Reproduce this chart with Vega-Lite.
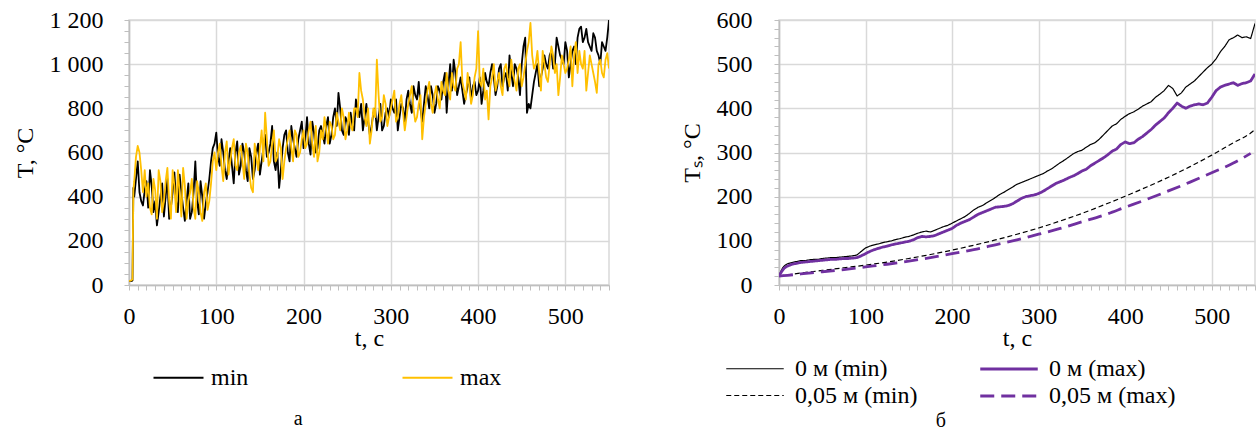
{
  "$schema": "https://vega.github.io/schema/vega-lite/v6.json",
  "padding": {"left": 12, "top": 7, "right": 0, "bottom": 0},
  "datasets": {
    "left": [
      {"t":0,"min":18,"max":18},{"t":2,"min":18,"max":20},{"t":4,"min":20,"max":25},{"t":5,"min":440,"max":430},{"t":6,"min":400,"max":470},
      {"t":8,"min":480,"max":580},{"t":10,"min":560,"max":630},{"t":12,"min":420,"max":600},{"t":14,"min":380,"max":520},{"t":16,"min":360,"max":420},
      {"t":20,"min":470,"max":400},{"t":24,"min":520,"max":350},{"t":28,"min":330,"max":480},{"t":32,"min":270,"max":300},{"t":36,"min":400,"max":470},
      {"t":40,"min":310,"max":380},{"t":44,"min":480,"max":530},{"t":48,"min":350,"max":300},{"t":52,"min":510,"max":450},{"t":56,"min":330,"max":520},
      {"t":60,"min":420,"max":310},{"t":64,"min":290,"max":450},{"t":68,"min":460,"max":380},{"t":72,"min":330,"max":480},{"t":76,"min":560,"max":300},
      {"t":80,"min":320,"max":420},{"t":84,"min":400,"max":290},{"t":88,"min":370,"max":460},{"t":92,"min":480,"max":380},{"t":96,"min":620,"max":560},
      {"t":100,"min":690,"max":520},{"t":104,"min":540,"max":640},{"t":108,"min":600,"max":470},{"t":112,"min":480,"max":650},{"t":116,"min":620,"max":560},
      {"t":120,"min":460,"max":660},{"t":124,"min":650,"max":520},{"t":128,"min":540,"max":630},{"t":132,"min":600,"max":480},{"t":136,"min":470,"max":600},
      {"t":140,"min":580,"max":440},{"t":144,"min":520,"max":640},{"t":148,"min":640,"max":520},{"t":152,"min":560,"max":700},{"t":156,"min":680,"max":780},
      {"t":160,"min":600,"max":540},{"t":164,"min":720,"max":640},{"t":168,"min":520,"max":560},{"t":172,"min":440,"max":660},{"t":176,"min":620,"max":480},
      {"t":180,"min":700,"max":620},{"t":184,"min":560,"max":700},{"t":188,"min":660,"max":560},{"t":192,"min":580,"max":680},{"t":196,"min":700,"max":600},
      {"t":200,"min":620,"max":700},{"t":204,"min":760,"max":640},{"t":208,"min":590,"max":740},{"t":212,"min":690,"max":580},{"t":216,"min":620,"max":560},
      {"t":220,"min":720,"max":700},{"t":224,"min":640,"max":760},{"t":228,"min":760,"max":640},{"t":232,"min":680,"max":720},{"t":236,"min":800,"max":680},
      {"t":240,"min":870,"max":740},{"t":244,"min":700,"max":800},{"t":248,"min":760,"max":660},{"t":252,"min":680,"max":780},{"t":256,"min":720,"max":700},
      {"t":260,"min":840,"max":800},{"t":264,"min":760,"max":960},{"t":268,"min":700,"max":840},{"t":272,"min":820,"max":720},{"t":276,"min":680,"max":640},
      {"t":280,"min":780,"max":800},{"t":284,"min":700,"max":1020},{"t":288,"min":820,"max":740},{"t":292,"min":720,"max":860},{"t":296,"min":800,"max":720},
      {"t":300,"min":840,"max":800},{"t":304,"min":780,"max":880},{"t":308,"min":700,"max":760},{"t":312,"min":820,"max":860},{"t":316,"min":740,"max":700},
      {"t":320,"min":880,"max":820},{"t":324,"min":780,"max":900},{"t":328,"min":860,"max":740},{"t":332,"min":920,"max":820},{"t":336,"min":740,"max":660},
      {"t":340,"min":900,"max":820},{"t":344,"min":800,"max":920},{"t":348,"min":860,"max":780},{"t":352,"min":820,"max":900},{"t":356,"min":880,"max":800},
      {"t":360,"min":920,"max":880},{"t":364,"min":780,"max":960},{"t":368,"min":1000,"max":840},{"t":372,"min":1020,"max":900},{"t":376,"min":860,"max":980},
      {"t":380,"min":940,"max":1100},{"t":384,"min":820,"max":880},{"t":388,"min":900,"max":960},{"t":392,"min":840,"max":820},{"t":396,"min":920,"max":940},
      {"t":400,"min":880,"max":1150},{"t":404,"min":820,"max":900},{"t":408,"min":960,"max":840},{"t":412,"min":900,"max":750},{"t":416,"min":1000,"max":940},
      {"t":420,"min":860,"max":880},{"t":424,"min":980,"max":960},{"t":428,"min":900,"max":860},{"t":432,"min":960,"max":1000},{"t":436,"min":1040,"max":900},
      {"t":440,"min":900,"max":960},{"t":444,"min":980,"max":880},{"t":448,"min":860,"max":1000},{"t":452,"min":1080,"max":940},{"t":456,"min":780,"max":1060},
      {"t":460,"min":800,"max":1187},{"t":464,"min":920,"max":980},{"t":468,"min":1000,"max":1060},{"t":472,"min":940,"max":880},{"t":476,"min":1040,"max":1000},
      {"t":480,"min":980,"max":920},{"t":484,"min":1060,"max":1080},{"t":488,"min":1000,"max":960},{"t":492,"min":1080,"max":860},{"t":496,"min":1020,"max":1040},
      {"t":500,"min":1100,"max":960},{"t":504,"min":940,"max":1020},{"t":508,"min":1060,"max":900},{"t":512,"min":1000,"max":1100},{"t":516,"min":1160,"max":1060},
      {"t":520,"min":1100,"max":980},{"t":524,"min":1160,"max":880},{"t":528,"min":1080,"max":1040},{"t":532,"min":1140,"max":960},{"t":536,"min":1060,"max":870},
      {"t":540,"min":1000,"max":1020},{"t":544,"min":1080,"max":940},{"t":548,"min":1120,"max":1050},{"t":550,"min":1200,"max":980},
      {"t":18,"min":430,"max":520},{"t":22,"min":350,"max":460},{"t":26,"min":450,"max":320},{"t":30,"min":380,"max":430},{"t":34,"min":330,"max":520},
      {"t":38,"min":460,"max":330},{"t":42,"min":400,"max":470},{"t":46,"min":300,"max":380},{"t":50,"min":420,"max":520},{"t":54,"min":380,"max":330},
      {"t":58,"min":500,"max":420},{"t":62,"min":350,"max":530},{"t":66,"min":380,"max":300},{"t":70,"min":300,"max":420},{"t":74,"min":420,"max":350},
      {"t":78,"min":380,"max":470},{"t":82,"min":470,"max":330},{"t":86,"min":300,"max":420},{"t":90,"min":420,"max":340},{"t":94,"min":560,"max":460},
      {"t":98,"min":640,"max":600},{"t":102,"min":580,"max":600},{"t":106,"min":660,"max":540},{"t":110,"min":520,"max":600},{"t":114,"min":560,"max":500},
      {"t":118,"min":540,"max":620},{"t":122,"min":600,"max":540},{"t":126,"min":500,"max":600},{"t":130,"min":640,"max":560},{"t":134,"min":520,"max":640},
      {"t":138,"min":620,"max":500},{"t":142,"min":480,"max":420},{"t":146,"min":600,"max":580},{"t":150,"min":500,"max":620},{"t":154,"min":620,"max":560},
      {"t":158,"min":580,"max":660},{"t":162,"min":640,"max":560},{"t":166,"min":560,"max":700},{"t":170,"min":600,"max":580},{"t":174,"min":520,"max":620},
      {"t":178,"min":680,"max":560},{"t":182,"min":600,"max":660},{"t":186,"min":720,"max":620},{"t":190,"min":620,"max":700},{"t":194,"min":660,"max":580},
      {"t":198,"min":740,"max":660},{"t":202,"min":660,"max":620},{"t":206,"min":640,"max":700},{"t":210,"min":740,"max":640},{"t":214,"min":600,"max":720},
      {"t":218,"min":700,"max":600},{"t":222,"min":680,"max":660},{"t":226,"min":720,"max":700},{"t":230,"min":640,"max":740},{"t":234,"min":760,"max":660},
      {"t":238,"min":720,"max":780},{"t":242,"min":800,"max":700},{"t":246,"min":680,"max":760},{"t":250,"min":740,"max":700},{"t":254,"min":780,"max":720},
      {"t":258,"min":700,"max":800},{"t":262,"min":800,"max":760},{"t":266,"min":820,"max":880},{"t":270,"min":760,"max":760},{"t":274,"min":740,"max":800},
      {"t":278,"min":720,"max":700},{"t":282,"min":800,"max":760},{"t":286,"min":760,"max":860},{"t":290,"min":700,"max":760},{"t":294,"min":780,"max":820},
      {"t":298,"min":760,"max":760},{"t":302,"min":800,"max":840},{"t":306,"min":840,"max":740},{"t":310,"min":760,"max":820},{"t":314,"min":800,"max":780},
      {"t":318,"min":840,"max":760},{"t":322,"min":820,"max":860},{"t":326,"min":900,"max":800},{"t":330,"min":840,"max":760},{"t":334,"min":800,"max":860},
      {"t":338,"min":820,"max":760},{"t":342,"min":860,"max":880},{"t":346,"min":900,"max":820},{"t":350,"min":780,"max":860},{"t":354,"min":900,"max":840},
      {"t":358,"min":840,"max":920},{"t":362,"min":960,"max":860},{"t":366,"min":900,"max":880},{"t":370,"min":880,"max":960},{"t":374,"min":960,"max":880},
      {"t":378,"min":900,"max":1000},{"t":382,"min":880,"max":920},{"t":386,"min":860,"max":840},{"t":390,"min":940,"max":900},{"t":394,"min":900,"max":860},
      {"t":398,"min":860,"max":980},{"t":402,"min":940,"max":920},{"t":406,"min":880,"max":980},{"t":410,"min":920,"max":880},{"t":414,"min":960,"max":900},
      {"t":418,"min":940,"max":1000},{"t":422,"min":900,"max":920},{"t":426,"min":1000,"max":900},{"t":430,"min":940,"max":980},{"t":434,"min":880,"max":940},
      {"t":438,"min":960,"max":1020},{"t":442,"min":1000,"max":920},{"t":446,"min":940,"max":980},{"t":450,"min":1000,"max":900},{"t":454,"min":1120,"max":1000},
      {"t":458,"min":820,"max":1100},{"t":462,"min":860,"max":1040},{"t":466,"min":960,"max":1000},{"t":470,"min":900,"max":960},{"t":474,"min":980,"max":1060},
      {"t":478,"min":1000,"max":940},{"t":482,"min":1040,"max":1000},{"t":486,"min":980,"max":1040},{"t":490,"min":1120,"max":1000},{"t":494,"min":1040,"max":940},
      {"t":498,"min":1000,"max":1000},{"t":502,"min":1060,"max":980},{"t":506,"min":1000,"max":1080},{"t":510,"min":1080,"max":1040},{"t":514,"min":1120,"max":960},
      {"t":518,"min":1170,"max":1000},{"t":522,"min":1120,"max":1060},{"t":526,"min":1100,"max":960},{"t":530,"min":1060,"max":1000},{"t":534,"min":1120,"max":920},
      {"t":538,"min":1040,"max":1000},{"t":542,"min":1100,"max":960},{"t":546,"min":1060,"max":1020}
    ],
    "solid": [
      {"t":0,"min0":20,"max0":20},{"t":2,"min0":30,"max0":27},{"t":4,"min0":38,"max0":33},{"t":6,"min0":43,"max0":38},{"t":8,"min0":46,"max0":41},
      {"t":10,"min0":48,"max0":43},{"t":15,"min0":51,"max0":47},{"t":20,"min0":53,"max0":49},{"t":25,"min0":55,"max0":51},{"t":30,"min0":55,"max0":52},
      {"t":35,"min0":57,"max0":53},{"t":40,"min0":58,"max0":54},{"t":45,"min0":58,"max0":55},{"t":50,"min0":60,"max0":56},{"t":55,"min0":61,"max0":57},
      {"t":60,"min0":62,"max0":58},{"t":65,"min0":62,"max0":58},{"t":70,"min0":63,"max0":59},{"t":75,"min0":64,"max0":60},{"t":80,"min0":65,"max0":60},
      {"t":85,"min0":66,"max0":61},{"t":90,"min0":68,"max0":62},{"t":95,"min0":76,"max0":66},{"t":100,"min0":84,"max0":71},{"t":105,"min0":88,"max0":76},
      {"t":110,"min0":91,"max0":80},{"t":115,"min0":93,"max0":83},{"t":120,"min0":96,"max0":86},{"t":125,"min0":98,"max0":88},{"t":130,"min0":100,"max0":91},
      {"t":135,"min0":103,"max0":93},{"t":140,"min0":105,"max0":95},{"t":145,"min0":108,"max0":97},{"t":150,"min0":110,"max0":99},{"t":155,"min0":113,"max0":102},
      {"t":160,"min0":117,"max0":107},{"t":165,"min0":120,"max0":110},{"t":170,"min0":122,"max0":109},{"t":175,"min0":120,"max0":110},{"t":180,"min0":124,"max0":112},
      {"t":185,"min0":128,"max0":116},{"t":190,"min0":132,"max0":120},{"t":195,"min0":135,"max0":124},{"t":200,"min0":140,"max0":128},{"t":205,"min0":145,"max0":135},
      {"t":210,"min0":150,"max0":140},{"t":215,"min0":155,"max0":144},{"t":220,"min0":162,"max0":148},{"t":225,"min0":170,"max0":154},{"t":230,"min0":176,"max0":160},
      {"t":235,"min0":180,"max0":164},{"t":240,"min0":186,"max0":168},{"t":245,"min0":192,"max0":172},{"t":250,"min0":198,"max0":176},{"t":255,"min0":205,"max0":177},
      {"t":260,"min0":210,"max0":178},{"t":265,"min0":216,"max0":180},{"t":270,"min0":222,"max0":184},{"t":275,"min0":228,"max0":190},{"t":280,"min0":232,"max0":196},
      {"t":285,"min0":236,"max0":200},{"t":290,"min0":240,"max0":202},{"t":295,"min0":244,"max0":204},{"t":300,"min0":248,"max0":207},{"t":305,"min0":252,"max0":212},
      {"t":310,"min0":258,"max0":218},{"t":315,"min0":263,"max0":224},{"t":320,"min0":270,"max0":230},{"t":325,"min0":277,"max0":234},{"t":330,"min0":283,"max0":238},
      {"t":335,"min0":290,"max0":243},{"t":340,"min0":297,"max0":247},{"t":345,"min0":302,"max0":252},{"t":350,"min0":305,"max0":258},{"t":355,"min0":312,"max0":262},
      {"t":360,"min0":318,"max0":270},{"t":365,"min0":322,"max0":276},{"t":370,"min0":330,"max0":282},{"t":375,"min0":340,"max0":288},{"t":380,"min0":350,"max0":295},
      {"t":385,"min0":360,"max0":303},{"t":390,"min0":365,"max0":308},{"t":395,"min0":375,"max0":318},{"t":400,"min0":382,"max0":324},{"t":405,"min0":388,"max0":320},
      {"t":410,"min0":392,"max0":322},{"t":415,"min0":398,"max0":330},{"t":420,"min0":405,"max0":336},{"t":425,"min0":410,"max0":344},{"t":430,"min0":415,"max0":352},
      {"t":435,"min0":425,"max0":362},{"t":440,"min0":432,"max0":370},{"t":445,"min0":440,"max0":378},{"t":450,"min0":452,"max0":390},{"t":455,"min0":445,"max0":400},
      {"t":460,"min0":428,"max0":412},{"t":465,"min0":435,"max0":405},{"t":470,"min0":448,"max0":400},{"t":475,"min0":455,"max0":405},{"t":480,"min0":462,"max0":408},
      {"t":485,"min0":472,"max0":410},{"t":490,"min0":482,"max0":408},{"t":495,"min0":492,"max0":412},{"t":500,"min0":500,"max0":425},{"t":505,"min0":512,"max0":440},
      {"t":510,"min0":528,"max0":448},{"t":515,"min0":540,"max0":452},{"t":520,"min0":555,"max0":455},{"t":525,"min0":560,"max0":458},{"t":530,"min0":566,"max0":452},
      {"t":535,"min0":560,"max0":456},{"t":540,"min0":562,"max0":458},{"t":545,"min0":558,"max0":462},{"t":550,"min0":592,"max0":478}
    ],
    "dashed": [
      {"t":0,"min5":20,"max5":20},{"t":10,"min5":23,"max5":22},{"t":25,"min5":27,"max5":25},{"t":50,"min5":33,"max5":30},{"t":75,"min5":39,"max5":35},
      {"t":100,"min5":45,"max5":41},{"t":125,"min5":52,"max5":47},{"t":150,"min5":60,"max5":54},{"t":175,"min5":69,"max5":62},{"t":200,"min5":79,"max5":71},
      {"t":225,"min5":90,"max5":80},{"t":250,"min5":102,"max5":91},{"t":275,"min5":115,"max5":102},{"t":300,"min5":129,"max5":115},{"t":325,"min5":145,"max5":128},
      {"t":350,"min5":162,"max5":143},{"t":375,"min5":181,"max5":158},{"t":400,"min5":201,"max5":176},{"t":425,"min5":222,"max5":194},{"t":450,"min5":244,"max5":213},
      {"t":475,"min5":268,"max5":233},{"t":500,"min5":294,"max5":254},{"t":525,"min5":322,"max5":276},{"t":545,"min5":344,"max5":298},{"t":550,"min5":352,"max5":null}
    ]
  },
  "spacing": 68,
  "resolve": {"scale": {"color": "independent", "strokeDash": "independent", "strokeWidth": "independent"}},
  "hconcat": [
    {
      "width": 480,
      "height": 265,
      "title": {"text": "а", "orient": "bottom", "anchor": "middle", "frame": "bounds", "offset": 19, "dx": -13},
      "data": {"name": "left"},
      "transform": [{"fold": ["min", "max"], "as": ["s", "T"]}],
      "mark": {"type": "line", "strokeWidth": 1.8, "clip": true, "strokeJoin": "round"},
      "encoding": {
        "x": {"field": "t", "type": "quantitative", "scale": {"domain": [0, 550], "nice": false},
          "axis": {"title": "t, с", "tickCount": 55, "labelExpr": "datum.value % 100 === 0 ? datum.label : ''",
            "gridOpacity": {"condition": {"test": "datum.value % 100 !== 0", "value": 0}, "value": 1},
            "labelFont": "Liberation Serif", "titleFont": "Liberation Serif",
            "labelPadding": 14, "titlePadding": -2}},
        "y": {"field": "T", "type": "quantitative", "scale": {"domain": [0, 1200], "nice": false},
          "axis": {"title": "T, °C", "tickCount": 24,
            "labelExpr": "datum.value % 200 === 0 ? replace(format(datum.value, ',d'), ',', ' ') : ''",
            "gridOpacity": {"condition": {"test": "datum.value % 200 !== 0", "value": 0}, "value": 1},
            "labelFont": "Liberation Serif", "titleFont": "Liberation Serif",
            "labelPadding": 21, "titlePadding": 12}},
        "color": {"field": "s", "type": "nominal", "scale": {"domain": ["min", "max"], "range": ["#000000", "#FFC000"]},
          "legend": {"title": null, "orient": "none", "legendX": 36, "legendY": 344, "direction": "horizontal", "columns": 2,
            "columnPadding": 149, "symbolType": "M-2,0H2", "symbolSize": 625, "symbolStrokeWidth": 2, "labelOffset": 19}}
      }
    },
    {
      "width": 476,
      "height": 265,
      "title": {"text": "б", "orient": "bottom", "anchor": "middle", "frame": "bounds", "offset": 3, "dx": -27},
      "encoding": {
        "x": {"field": "t", "type": "quantitative", "scale": {"domain": [0, 550], "nice": false},
          "axis": {"title": "t, с", "tickCount": 55, "labelExpr": "datum.value % 100 === 0 ? datum.label : ''",
            "gridOpacity": {"condition": {"test": "datum.value % 100 !== 0", "value": 0}, "value": 1},
            "labelFont": "Liberation Serif", "titleFont": "Liberation Serif",
            "labelPadding": 14, "titlePadding": -2}},
        "y": {"field": "T", "type": "quantitative", "scale": {"domain": [0, 600], "nice": false},
          "axis": {"title": "Tₛ, °C", "tickCount": 30,
            "labelExpr": "datum.value % 100 === 0 ? datum.label : ''",
            "gridOpacity": {"condition": {"test": "datum.value % 100 !== 0", "value": 0}, "value": 1},
            "labelFont": "Liberation Serif", "titleFont": "Liberation Serif",
            "labelPadding": 22, "titlePadding": 12}},
        "color": {"field": "s", "type": "nominal",
          "scale": {"domain": ["min0", "max0", "min5", "max5"], "range": ["#000000", "#7030A0", "#000000", "#7030A0"]},
          "legend": {"title": null, "orient": "none", "legendX": -38, "legendY": 335, "direction": "horizontal", "columns": 2,
            "columnPadding": 56, "rowPadding": 1, "symbolType": "M-2.3,0H2.3", "symbolSize": 625, "labelOffset": 26,
            "labelExpr": "{'min0': '0 м (min)', 'max0': '0 м (max)', 'min5': '0,05 м (min)', 'max5': '0,05 м (max)'}[datum.label]"}},
        "strokeDash": {"field": "s", "type": "nominal",
          "scale": {"type": "ordinal", "domain": ["min0", "max0", "min5", "max5"], "range": [[1, 0], [1, 0], [5, 3], [14, 7]]},
          "legend": {"title": null, "orient": "none", "legendX": -38, "legendY": 335, "direction": "horizontal", "columns": 2,
            "columnPadding": 56, "rowPadding": 1, "symbolType": "M-2.3,0H2.3", "symbolSize": 625, "labelOffset": 26,
            "labelExpr": "{'min0': '0 м (min)', 'max0': '0 м (max)', 'min5': '0,05 м (min)', 'max5': '0,05 м (max)'}[datum.label]"}},
        "strokeWidth": {"field": "s", "type": "nominal",
          "scale": {"type": "ordinal", "domain": ["min0", "max0", "min5", "max5"], "range": [1.2, 2.8, 1.2, 2.8]},
          "legend": {"title": null, "orient": "none", "legendX": -38, "legendY": 335, "direction": "horizontal", "columns": 2,
            "columnPadding": 56, "rowPadding": 1, "symbolType": "M-2.3,0H2.3", "symbolSize": 625, "labelOffset": 26,
            "labelExpr": "{'min0': '0 м (min)', 'max0': '0 м (max)', 'min5': '0,05 м (min)', 'max5': '0,05 м (max)'}[datum.label]"}}
      },
      "layer": [
        {
          "data": {"name": "solid"},
          "transform": [{"fold": ["min0", "max0"], "as": ["s", "T"]}],
          "mark": {"type": "line", "clip": true, "strokeJoin": "round"}
        },
        {
          "data": {"name": "dashed"},
          "transform": [{"fold": ["min5", "max5"], "as": ["s", "T"]}],
          "mark": {"type": "line", "clip": true, "interpolate": "monotone"}
        }
      ]
    }
  ],
  "config": {
    "font": "Liberation Serif",
    "view": {"stroke": "#d9d9d9", "strokeWidth": 1.5},
    "axis": {"labelFont": "Liberation Serif", "labelFontSize": 24, "labelColor": "#000000",
      "titleFont": "Liberation Serif", "titleFontSize": 24, "titleFontWeight": "normal", "titleColor": "#000000",
      "domainColor": "#bfbfbf", "domainWidth": 1.5, "tickColor": "#bfbfbf", "tickWidth": 1, "gridColor": "#d9d9d9", "gridWidth": 1.5,
      "tickSize": 5, "labelOverlap": false, "labelFlush": false},
    "legend": {"labelFont": "Liberation Serif", "labelFontSize": 24, "labelColor": "#000000", "symbolType": "stroke", "padding": 0, "labelLimit": 300},
    "title": {"font": "Liberation Serif", "fontSize": 20, "fontWeight": "normal", "color": "#000000"}
  }
}
